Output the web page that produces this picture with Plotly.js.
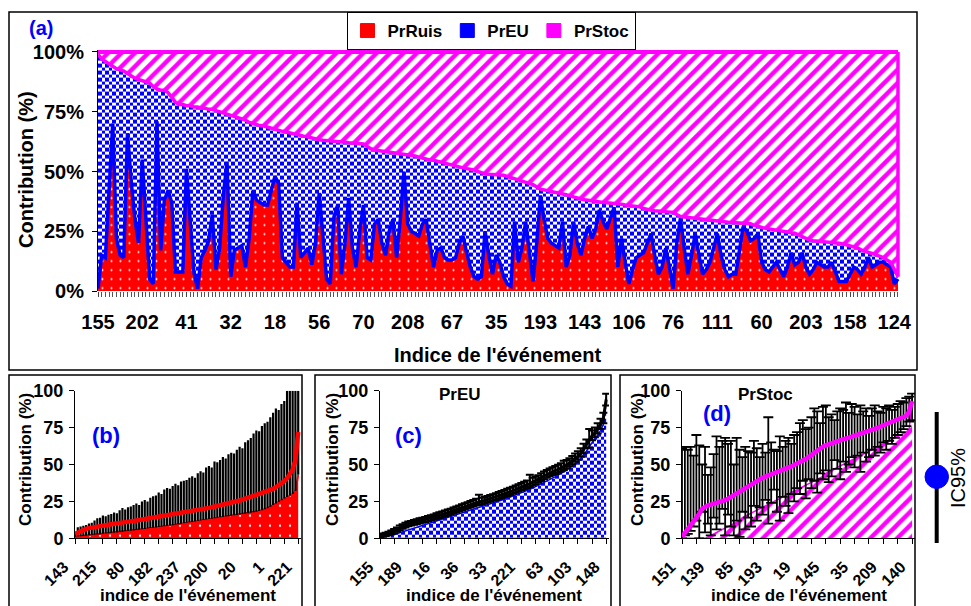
<!DOCTYPE html>
<html><head><meta charset="utf-8">
<script src="https://cdn.plot.ly/plotly-3.0.1.min.js"></script>
<style>html,body{margin:0;padding:0;background:#fff}#chart{width:971px;height:606px}</style>
</head><body><div id="chart"></div>
<script>
// ---------- Panel (a): contributions per event (stacked, %) ----------
const labelsA = ["155","202","41","32","18","56","70","208","67","35","193","143","106","76","111","60","203","158","124"];
const prRuis = [
 1,15,14,40,70,22,15,14,66,46, 30,20,55,30,5,3,71,17,38,42,
 37,8,8,8,51,30,8,1,14,17, 21,32,9,18,40,54,6,17,18,19,
 10,22,42,38,37,36,36,42,48,45, 14,12,10,10,37,14,16,18,11,20,
 41,22,5,3,31,36,7,20,39,18, 10,25,36,14,13,28,30,20,15,25,
 30,14,30,50,28,25,24,23,28,30, 20,10,17,18,14,13,13,14,20,23,
 16,10,6,5,6,25,15,7,15,12, 6,3,2,29,12,18,29,15,4,20,
 40,30,22,20,19,18,29,10,15,29, 20,15,22,27,22,26,34,29,26,30,
 35,10,22,12,3,9,14,15,16,20, 24,15,7,10,18,10,1,20,30.5,18,
 7,15,24,15,7,9,12,18,24,15, 9,6,7,7,18,27,25,21,22,24,
 12,9,8,10,12,9,6,10,16,11, 12,16,10,7,9,12,11,10,10,12,
 8,4,4,4,7,10,9,7,10,14, 10,11,12,12,11,10,3,5];
// top of the PrEU band (PrRuis + PrEU)
const prRuisEU = [
 99,97,96,95,94,93,92.5,92,91,90, 89,88.5,88,87.5,87,85.5,84.5,84,84,83,
 81,79,78,78,77.5,77.5,77,77,76.5,76.5, 76,76,75.5,75,74.5,74,73.5,73,72.5,72,
 71.5,70.5,70,69.5,69.2,69,68.5,68,67.5,67, 66.8,66.5,66,65.8,65.5,65,64.7,64.4,64,63.5,
 63.3,63.1,63,62.8,62.6,62.5,62.4,62.2,62,61.9, 61.8,61.7,61.5,60.5,59.5,59,58.8,58.6,58.4,58.1,
 57.8,57.6,57.4,57.2,57,56.8,56.5,56,55.5,55, 54.8,54.7,54.3,53.8,53.3,52.8,52.4,52,51.8,51.5,
 51.2,51,50.6,50,49.4,49,48.8,48.6,48.5,48.5, 48.4,48,47.5,47,46.5,46,45.6,45.2,44.5,43.5,
 42.6,42.3,42,41.7,41.3,41,40.8,40.3,39.8,39.3, 38.8,38.5,38.2,37.9,37.6,37.3,37.1,37,36.9,36.8,
 36.7,36.6,36.3,36,35.8,35.6,35.4,35.2,34.5,34, 33.8,33.6,33.4,33.3,33.2,33.1,32.9,32,31.2,31,
 30.8,30.6,30.4,30.2,30,29.9,29.7,29.4,29.1,29, 28.9,28.8,28.7,28.6,28.5,28.4,28.3,28.1,27.5,27,
 26.5,26.2,26,25.8,25.6,25.3,25,24.7,24.4,24.2, 23.5,22.7,22,21.3,21,20.9,20.8,20.7,20.6,20.5,
 20.3,20,19.7,19.3,18.9,18.6,18,17.2,16.5,16.1, 15.7,15.2,14.6,14,13,12,9,6];

// ---------- Panel (b): PrRuis with IC95% ----------
const labelsB = ["143","215","80","182","237","200","20","1","221"];
const meanB = [3,4,5,5.8,6.4,6.9,7.3,7.7,8,8.3, 8.6,8.9,9.2,9.5,9.8,10.1,10.5,10.8,11,11.2,
 11.5,11.8,12.1,12.4,12.7,13,13.4,13.7,14,14.3, 14.6,15,15.3,15.6,15.9,16.2,16.5,16.8,17.1,17.4,
 17.7,18,18.3,18.6,19,19.4,19.8,20.2,20.6,21, 21.4,21.8,22.2,22.6,23,23.4,23.9,24.4,25,25.6,
 26.2,26.8,27.5,28.2,28.8,29.3,29.8,30.3,30.9,31.6, 32.5,33.5,34.6,35.8,37.2,38.8,40.6,43,46.5,53, 72];
const lowB = [1,1.2,1.4,1.6,1.8,2,2.2,2.4,2.6,2.8, 3,3.2,3.4,3.6,3.8,4,4.2,4.5,4.7,4.9,
 5.1,5.3,5.6,5.8,6.1,6.3,6.6,6.9,7.1,7.4, 7.6,7.9,8.1,8.4,8.6,8.9,9.2,9.5,9.8,10.2,
 10.5,10.8,11.1,11.4,11.8,12.1,12.4,12.7,13,13.3, 13.6,13.9,14.2,14.5,14.8,15,15.3,15.6,15.8,16.1,
 16.4,16.7,17,17.3,17.6,18,18.5,19,19.6,20.4, 21.4,22.5,23.5,24.6,25.8,27,28,29,30,32, 43];
const upB = [4.5,7.5,8,8.5,9,10,10.5,12,13.5,14, 15.5,15,16,16.5,17.5,17,19,20.5,19.5,21,
 21.5,22.5,23.5,22.5,25,26,25,27.5,28.5,29, 31,30,33,34,33.5,35.5,37,36,38.5,39,
 39.5,41,42,41,44,45.5,44.5,48,49,48, 52,51.5,53,55,54,57,58,57.5,60,62,
 61,65,66.5,68,71,73,72.5,76,78,79, 82,85,88,87,91,93,100,100,100,100, 100];

// ---------- Panel (c): PrEU with IC95% ----------
const labelsC = ["155","189","16","36","33","221","63","103","148"];
const meanC = [1.5,2,2.6,3.2,3.9,4.8,5.8,7,8,8.8, 9.6,10.1,10.6,11.1,11.6,12.1,12.6,13.1,13.6,14.1,
 14.8,15.4,16,16.6,17.2,17.8,18.5,19.2,19.9,20.6, 21.3,22,22.7,23.4,24.1,24.6,25.1,25.6,26.2,26.8,
 27.4,28,28.7,29.4,30.1,30.8,31.5,32.2,33,33.8, 34.6,35.4,36.2,37,37.9,38.8,39.8,41,42.2,43.2,
 44.2,45,45.8,46.6,47.5,48.5,49.7,51,52.4,54, 55.5,57.5,60,63.5,67,69.5,71.5,74,77,81, 94];
const areaC = [0.5,0.8,1.2,1.6,2,2.6,3.2,3.9,4.6,5.3, 6,6.6,7.2,7.8,8.4,9,9.6,10.2,10.8,11.3,
 11.8,12.4,13,13.6,14.2,14.8,15.4,16,16.6,17.2, 17.8,18.4,19,19.6,20.2,20.8,21.4,22,22.6,23.2,
 23.8,24.4,25,25.7,26.4,27.1,27.8,28.5,29.2,30, 30.8,31.6,32.4,33.2,34,34.9,35.8,36.8,37.8,38.8,
 39.8,40.8,41.8,42.8,43.9,45,46.2,47.5,49,50.6, 52.3,54.2,56.3,59,62,65,67.5,70,73,77, 96];
const upC = [2.5,3.2,3.8,4.5,5.3,6.3,7.4,8.6,9.6,10.5, 11.3,11.8,12.4,12.9,13.5,14,14.5,15.1,15.6,16.2,
 16.9,17.6,18.2,18.9,19.5,20.1,20.8,21.6,22.3,23, 23.8,24.5,25.2,26,26.8,29.5,27.5,28,28.6,29.3,
 29.9,30.6,31.3,32,32.8,33.5,34.3,35,35.8,36.6, 37.4,38.3,39.2,43,41,41.8,42.8,44,45.3,46.3,
 47.3,48.2,49,49.8,50.8,52.5,53,54.3,55.8,57.5, 59,61,64,67,74,73,75,78,81,85, 98];
const lowC = [0.8,1.2,1.6,2.1,2.7,3.5,4.4,5.5,6.5,7.3, 8.1,8.6,9.1,9.6,10,10.5,11,11.5,12,12.5,
 13.1,13.7,14.3,14.9,15.5,16.1,16.8,17.4,18.1,18.8, 19.5,20.2,20.9,21.6,22.3,22.6,23.1,23.6,24.2,24.8,
 25.4,26,26.6,27.3,28,28.7,29.4,30.1,30.9,31.7, 32.5,33.3,34.1,34.8,35.8,36.6,37.6,38.8,40,41,
 42,42.9,43.6,44.4,45.3,46.3,47.5,48.8,50.2,51.8, 53.3,55.2,57.6,61,61.5,66.5,68.5,71,74,78, 90];

// ---------- Panel (d): PrStoc with IC95% ----------
const labelsD = ["151","139","85","193","19","145","35","209","140"];
const meanD = [1,3.5,6,8.5,11,13.5,16.5,20,21.5,22.3, 22.8,23.3,23.8,24.3,25,25.8,26.8,28,29.5,31,
 32,33,34,35.2,36.5,37.8,39,40,41,41.8, 42.5,43.2,44,44.7,45.4,46.2,47,47.8,48.7,49.6,
 50.5,51.5,52.6,53.7,55,56.5,58,59.5,61,62, 63,63.8,64.5,65.2,65.8,66.4,67,67.6,68.2,68.8,
 69.4,70,70.6,71.2,71.8,72.4,73.2,74,74.8,75.8, 76.6,77.3,78,78.7,79.4,80.1,80.8,81.6,83,86, 93];
const areaD = [0,0,0,0,0,0,0,0,0,1, 2,3,4,5,6,7,8,9,10,11, 12,14,15,16,17,18,19,20,21,22,
 23,24,25,26,27,28,29,30,31,32, 33,34,35,36,37,38,39,40,41,42, 44,45,46,47,48,49,50,51,52,53,
 54,55,56,57,58,59,60,61,62,63, 64,65,66,67,68,69,70,71,72,74, 97];
const upD = [61,62,60,62,56,70,63,50,62,43, 48,57,69,62,66,68,64,66,50,68,
 60,55,62,59,58,66,61,55,64,58, 82,65,60,59,69,62,66,68,64,70,
 72,78,80,74,75,82,88,86,78,89, 90,82,84,80,86,88,87,92,85,91,
 89,84,90,86,88,83,88,90,86,85, 89,88,90,87,89,91,93,92,95,96, 98];
const lowD = [0,2,3,5,8,12,0,18,4,10, 2,14,6,10,20,2,16,8,2,12,
 1,18,6,14,8,22,12,21,16,26, 10,24,33,18,12,28,22,17,30,25,
 34,30,39,27,40,34,39,31,44,40, 46,38,42,53,47,40,52,45,50,55,
 48,56,45,58,52,55,60,56,62,58, 65,60,66,64,68,70,72,74,76,79, 80];

// ---------- helpers ----------
const W = 971, H = 606;
const PX = v => v / W, PY = v => 1 - v / H;
const FONT = "Liberation Sans, Arial, sans-serif";
const idx = arr => arr.map((_, i) => i);

const xA = idx(prRuis);
const prEU = prRuisEU.map((c, i) => +(c - prRuis[i]).toFixed(2));
const prStoc = prRuisEU.map(c => +(100 - c).toFixed(2));
const lastA = xA.length - 1;

const RED = '#FF0000', BLUE = '#0000FF', MAG = '#FF00FF';
const CHECK_SIZE = 4.7;
const dotsRed = s => ({shape: '.', bgcolor: RED, fgcolor: '#FFFFFF', size: s, solidity: 0.04});
const checkBlue = {shape: '.', bgcolor: '#FFFFFF', fgcolor: BLUE, size: CHECK_SIZE, solidity: 0.5};
const stripesMag = {shape: '/', bgcolor: '#FFFFFF', fgcolor: MAG, size: 9.5, solidity: 0.45};

const traces = [];
// (a)
traces.push({x: xA, y: prRuis, stackgroup: 'a', mode: 'lines', name: 'PrRuis', showlegend: false,
  line: {color: BLUE, width: 3.5}, fillcolor: RED, fillpattern: dotsRed(9), xaxis: 'x', yaxis: 'y', hoverinfo: 'skip'});
traces.push({x: xA, y: prEU, stackgroup: 'a', mode: 'lines', name: 'PrEU', showlegend: false,
  line: {color: MAG, width: 3.5}, fillcolor: '#FFFFFF', fillpattern: checkBlue, xaxis: 'x', yaxis: 'y', hoverinfo: 'skip'});
traces.push({x: xA, y: prStoc, stackgroup: 'a', mode: 'lines', name: 'PrStoc', showlegend: false,
  line: {color: MAG, width: 4}, fillcolor: '#FFFFFF', fillpattern: stripesMag, xaxis: 'x', yaxis: 'y', hoverinfo: 'skip'});
traces.push({x: [lastA, lastA], y: [prRuisEU[lastA], 100], mode: 'lines', showlegend: false,
  line: {color: MAG, width: 3.5}, xaxis: 'x', yaxis: 'y', hoverinfo: 'skip'});
// legend entries
[['PrRuis', RED], ['PrEU', BLUE], ['PrStoc', MAG]].forEach(([n, c]) => {
  traces.push({x: [null], y: [null], mode: 'markers', name: n, showlegend: true,
    marker: {symbol: 'square', size: 14, color: c, line: {color: c, width: 1}}, xaxis: 'x', yaxis: 'y'});
});

function ciPanel(xa, ya, mean, area, lo, hi, areaStyle, barWidth, barThick, meanLine) {
  const x = idx(mean);
  traces.push(Object.assign({x: x, y: area, mode: 'lines', fill: 'tozeroy', showlegend: false,
    xaxis: xa, yaxis: ya, hoverinfo: 'skip'}, areaStyle));
  traces.push({x: x, y: mean, mode: 'lines', line: {width: 0}, showlegend: false, xaxis: xa, yaxis: ya, hoverinfo: 'skip',
    error_y: {type: 'data', symmetric: false,
      array: hi.map((h, i) => +(h - mean[i]).toFixed(2)),
      arrayminus: lo.map((l, i) => +(mean[i] - l).toFixed(2)),
      color: '#000000', thickness: barThick, width: barWidth}});
  traces.push({x: x, y: mean, mode: 'lines', line: meanLine, showlegend: false, xaxis: xa, yaxis: ya, hoverinfo: 'skip'});
}
ciPanel('x2', 'y2', meanB, lowB, lowB, upB,
  {line: {color: RED, width: 2}, fillcolor: RED, fillpattern: dotsRed(10)}, 0, 2.2, {color: RED, width: 4.5});
ciPanel('x3', 'y3', meanC, areaC, lowC, upC,
  {line: {color: BLUE, width: 1.5}, fillcolor: '#FFFFFF', fillpattern: checkBlue}, 4, 2, {color: '#000000', width: 3});
ciPanel('x4', 'y4', meanD, areaD, lowD, upD,
  {line: {color: MAG, width: 1.5}, fillcolor: '#FFFFFF', fillpattern: stripesMag}, 5, 1.8, {color: MAG, width: 4.5});

// ---------- axes ----------
const tickFont = s => ({family: FONT, size: s, color: '#000', weight: 'bold'});
const bcdTicks = Array.from({length: 17}, (_, k) => k * 5);
const bcdText = labs => bcdTicks.map((v, k) => (k % 2 === 0 ? labs[k / 2] : ''));
function xSmall(dom, labs, anchor) {
  return {domain: [PX(dom[0]), PX(dom[1])], range: [0, 81], anchor: anchor, tickmode: 'array',
    tickvals: bcdTicks, ticktext: bcdText(labs), tickangle: -45, ticks: 'outside', ticklen: 5,
    tickcolor: '#000', showline: true, linecolor: '#000', linewidth: 1, showgrid: false, zeroline: false,
    tickfont: tickFont(16), ticklabelstandoff: 7, ticklabelshift: -11};
}
function ySmall(anchor) {
  return {domain: [PY(538.3), PY(390.7)], range: [0, 100], anchor: anchor, tickmode: 'array',
    tickvals: [0, 25, 50, 75, 100], ticks: 'outside', ticklen: 5, tickcolor: '#000',
    showline: true, linecolor: '#000', linewidth: 1, showgrid: false, zeroline: false,
    tickfont: tickFont(18), ticklabelstandoff: 2};
}

const layout = {
  width: W, height: H, margin: {l: 0, r: 0, t: 0, b: 0},
  paper_bgcolor: '#FFFFFF', plot_bgcolor: 'rgba(0,0,0,0)',
  font: {family: FONT, color: '#000'},
  showlegend: true,
  legend: {orientation: 'h', traceorder: 'normal', x: PX(491), xanchor: 'center', y: PY(12), yanchor: 'top',
    bordercolor: '#000', borderwidth: 1, bgcolor: '#FFFFFF', font: {family: FONT, size: 17, weight: 'bold', color: '#000'},
    itemwidth: 30, tracegroupgap: 0},
  xaxis: {domain: [PX(98), PX(900.2)], range: [0, 217.6], anchor: 'y', tickmode: 'array',
    tickvals: labelsA.map((_, k) => k * 12), ticktext: labelsA, ticks: 'outside', ticklen: 5, tickcolor: '#444',
    showline: false, showgrid: false, zeroline: false, tickfont: tickFont(20), ticklabelstandoff: 8,
    minor: {tickmode: 'linear', tick0: 0, dtick: 1, ticks: 'outside', ticklen: 5, tickcolor: '#555', showgrid: false}},
  yaxis: {domain: [PY(291), PY(49.6)], range: [0, 101], anchor: 'x', tickmode: 'array',
    tickvals: [0, 25, 50, 75, 100], ticktext: ['0%', '25%', '50%', '75%', '100%'], ticks: 'outside', ticklen: 5,
    tickcolor: '#000', showline: true, linecolor: '#000', linewidth: 1, showgrid: false, zeroline: false,
    tickfont: tickFont(20), ticklabelstandoff: 4},
  xaxis2: xSmall([75, 301], labelsB, 'y2'), yaxis2: ySmall('x2'),
  xaxis3: xSmall([380, 609], labelsC, 'y3'), yaxis3: ySmall('x3'),
  xaxis4: xSmall([682, 915], labelsD, 'y4'), yaxis4: ySmall('x4'),
  shapes: [
    {type: 'rect', xref: 'paper', yref: 'paper', x0: PX(9), x1: PX(917), y0: PY(370), y1: PY(12), line: {color: '#000', width: 1.5}},
    {type: 'rect', xref: 'paper', yref: 'paper', x0: PX(9), x1: PX(302), y0: PY(620), y1: PY(375), line: {color: '#000', width: 1.5}},
    {type: 'rect', xref: 'paper', yref: 'paper', x0: PX(315), x1: PX(611), y0: PY(620), y1: PY(375), line: {color: '#000', width: 1.5}},
    {type: 'rect', xref: 'paper', yref: 'paper', x0: PX(620), x1: PX(915), y0: PY(620), y1: PY(375), line: {color: '#000', width: 1.5}},
    {type: 'line', xref: 'paper', yref: 'paper', x0: PX(936.7), x1: PX(936.7), y0: PY(543), y1: PY(412), line: {color: '#000', width: 4}},
    {type: 'circle', xref: 'paper', yref: 'paper', x0: PX(925), x1: PX(948.5), y0: PY(488.5), y1: PY(465), fillcolor: BLUE, line: {color: BLUE, width: 1}}
  ],
  annotations: [
    {text: '(a)', x: PX(41), y: PY(28), font: {size: 20, color: BLUE, weight: 'bold'}},
    {text: '(b)', x: PX(106), y: PY(435), font: {size: 22, color: BLUE, weight: 'bold'}},
    {text: '(c)', x: PX(408), y: PY(435), font: {size: 22, color: BLUE, weight: 'bold'}},
    {text: '(d)', x: PX(717), y: PY(413), font: {size: 22, color: BLUE, weight: 'bold'}},
    {text: 'PrEU', x: PX(460), y: PY(395), font: {size: 17, weight: 'bold'}},
    {text: 'PrStoc', x: PX(765), y: PY(395), font: {size: 17, weight: 'bold'}},
    {text: 'Contribution (%)', x: PX(26), y: PY(170), textangle: -90, font: {size: 20, weight: 'bold'}},
    {text: "Indice de l'événement", x: PX(497), y: PY(355), font: {size: 20, weight: 'bold'}},
    {text: 'Contribution (%)', x: PX(25), y: PY(460), textangle: -90, font: {size: 17, weight: 'bold'}},
    {text: 'Contribution (%)', x: PX(332), y: PY(460), textangle: -90, font: {size: 17, weight: 'bold'}},
    {text: 'Contribution (%)', x: PX(637), y: PY(460), textangle: -90, font: {size: 17, weight: 'bold'}},
    {text: "indice de l'événement", x: PX(188), y: PY(595), font: {size: 17, weight: 'bold'}},
    {text: "indice de l'événement", x: PX(494), y: PY(595), font: {size: 17, weight: 'bold'}},
    {text: "indice de l'événement", x: PX(799), y: PY(595), font: {size: 17, weight: 'bold'}},
    {text: 'IC95%', x: PX(958), y: PY(478), textangle: -90, font: {size: 20}, borderpad: 0}
  ].map(a => Object.assign({xref: 'paper', yref: 'paper', showarrow: false, xanchor: 'center', yanchor: 'middle'}, a,
    {font: Object.assign({family: FONT, color: '#000'}, a.font)}))
};

// turn the blue dot texture into a checkerboard tile (fill style only)
function checkerize(gd) {
  const NS = 'http://www.w3.org/2000/svg';
  gd.querySelectorAll('pattern').forEach(p => {
    if (Math.abs(parseFloat(p.getAttribute('width')) - CHECK_SIZE) > 1e-6) return;
    const s = 7, h = s / 2;
    p.setAttribute('width', s); p.setAttribute('height', s);
    p.setAttribute('patternUnits', 'userSpaceOnUse');
    while (p.firstChild) p.removeChild(p.firstChild);
    [[0, 0, s, s, '#FFFFFF'], [0, 0, h, h, BLUE], [h, h, h, h, BLUE]].forEach(([x, y, w, hh, c]) => {
      const r = document.createElementNS(NS, 'rect');
      r.setAttribute('x', x); r.setAttribute('y', y); r.setAttribute('width', w); r.setAttribute('height', hh);
      r.setAttribute('fill', c); r.setAttribute('shape-rendering', 'crispEdges');
      p.appendChild(r);
    });
  });
}

Plotly.newPlot('chart', traces, layout, {displayModeBar: false, staticPlot: true}).then(checkerize);
</script>
</body></html>
